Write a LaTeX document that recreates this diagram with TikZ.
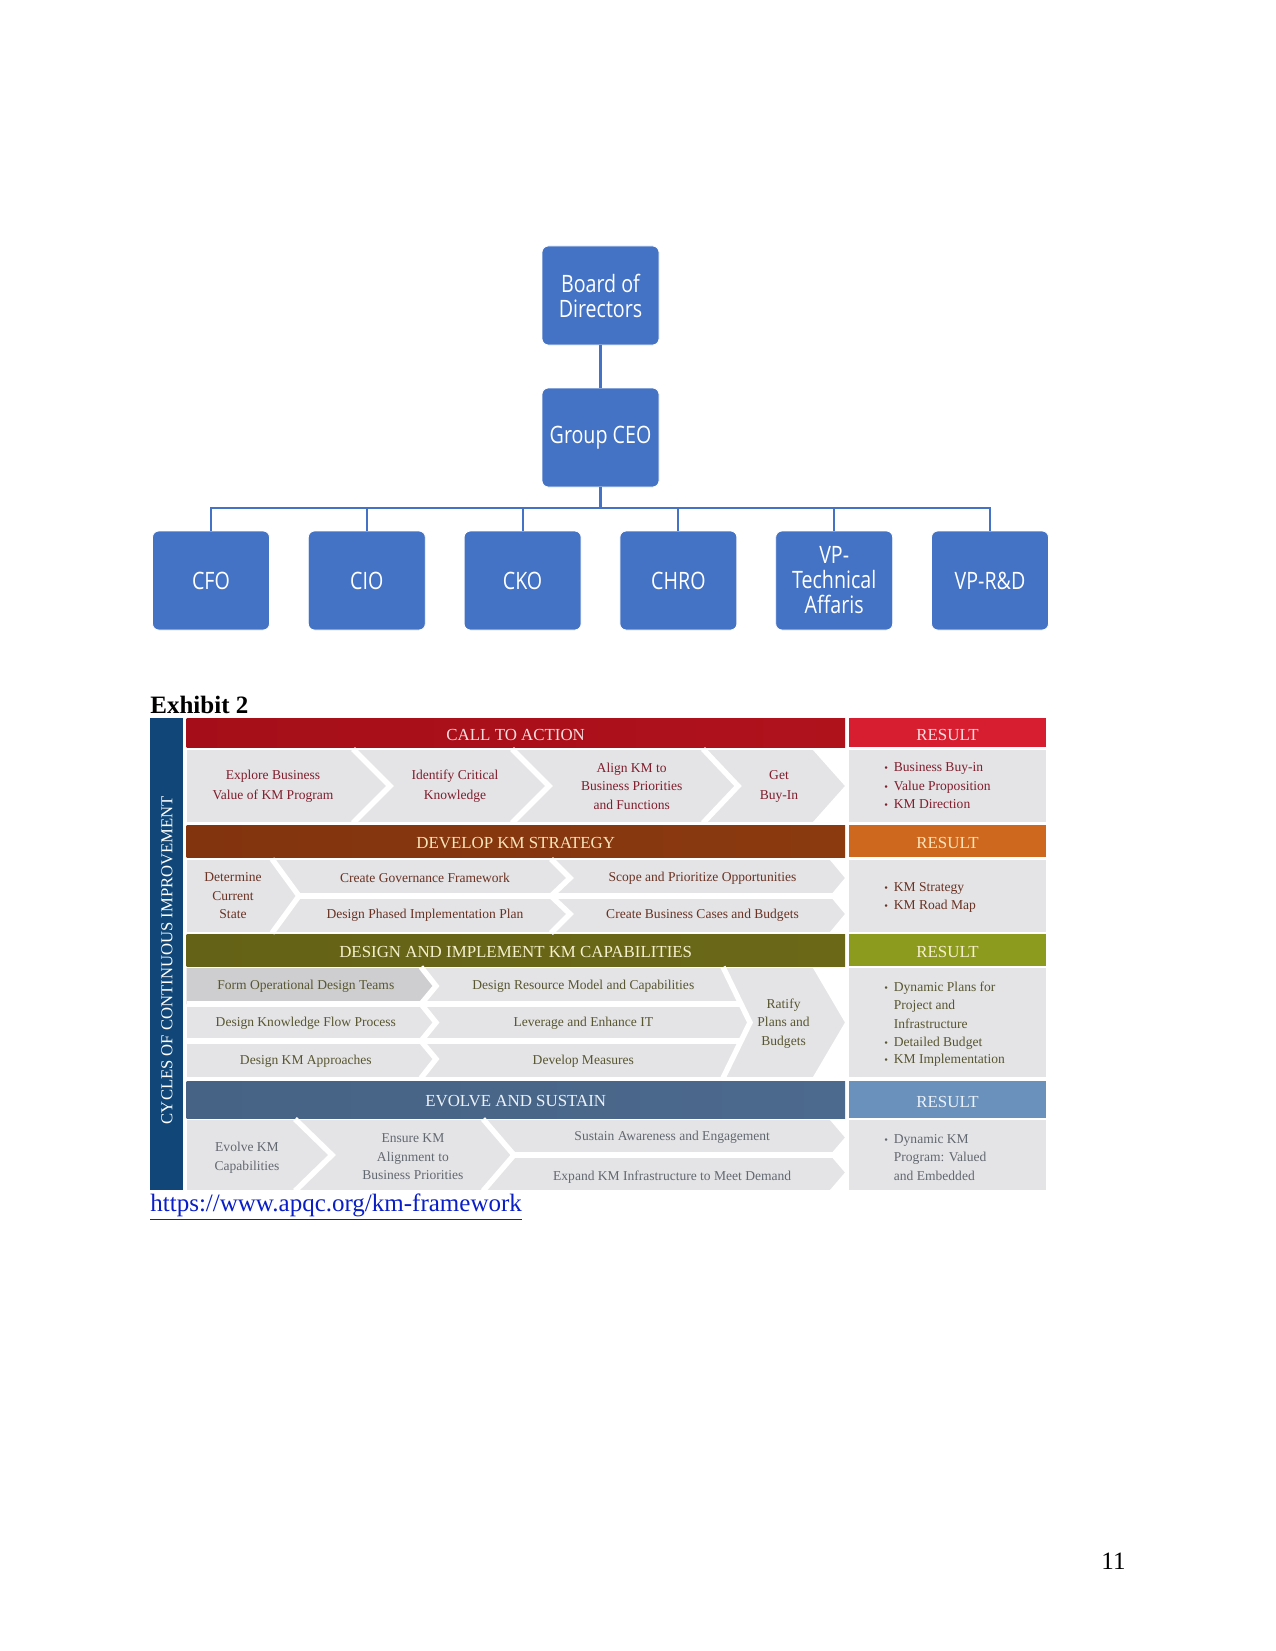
\documentclass[tikz,border=0pt]{standalone}
\usepackage{fontspec}
\setmainfont{Liberation Serif}
\newfontfamily\orgfont[FakeStretch=0.82]{Open Sans}
\definecolor{orgblue}{RGB}{68,114,196}
\definecolor{cyclebar}{RGB}{16,71,120}
\definecolor{hdrA}{RGB}{176,18,28}
\definecolor{hdrAl}{RGB}{165,14,24}
\definecolor{resA}{RGB}{214,30,48}
\definecolor{hdrB}{RGB}{139,58,15}
\definecolor{hdrBl}{RGB}{130,52,14}
\definecolor{resB}{RGB}{206,104,30}
\definecolor{hdrC}{RGB}{107,104,24}
\definecolor{hdrCl}{RGB}{100,98,22}
\definecolor{resC}{RGB}{140,154,30}
\definecolor{hdrD}{RGB}{76,106,142}
\definecolor{hdrDl}{RGB}{70,98,132}
\definecolor{resD}{RGB}{105,145,187}
\definecolor{txtA}{RGB}{248,220,222}
\definecolor{txtB}{RGB}{250,228,185}
\definecolor{txtC}{RGB}{245,240,205}
\definecolor{txtD}{RGB}{235,242,250}
\definecolor{rowA}{RGB}{128,30,45}
\definecolor{rowB}{RGB}{105,50,35}
\definecolor{rowC}{RGB}{88,86,48}
\definecolor{rowD}{RGB}{98,104,112}
\definecolor{rowgray}{RGB}{228,228,230}
\definecolor{darkgray}{RGB}{206,206,208}
\definecolor{urlblue}{RGB}{10,30,200}
\begin{document}
\begin{tikzpicture}[x=0.48pt,y=-0.48pt,
  orgbox/.style={rectangle, rounded corners=3pt, fill=orgblue, draw=white, line width=0.4pt,
    minimum width=56.16pt, minimum height=47.52pt, text=white,
    font=\orgfont\fontsize{11.5}{12}\selectfont, align=center, inner sep=0pt},
  conn/.style={draw=orgblue, line width=1pt},
  hdrtxt/.style={font=\fontsize{8.1}{10}\selectfont, inner sep=0pt},
  body/.style={font=\fontsize{6.5}{9.9}\selectfont, align=center, inner sep=0pt},
  bodyiii/.style={font=\fontsize{6.5}{8.9}\selectfont, align=center, inner sep=0pt},
  res/.style={font=\fontsize{6.5}{8}\selectfont, anchor=base west, inner sep=0pt},
  bul/.style={font=\fontsize{5}{6}\selectfont, anchor=base west, inner sep=0pt},
  sep/.style={draw=white, line width=2.6pt, line join=miter},
  pagetxt/.style={font=\fontsize{12}{14}\selectfont, anchor=base west, inner sep=0pt}
]
\fill[white] (0,0) rectangle (1275,1651);
\useasboundingbox (0,0) rectangle (1275,1651);

% ---------------- org chart ----------------
\node[orgbox] (board) at (600.5,295.5) {Board of\\Directors};
\node[orgbox] (ceo) at (600.5,437.5) {Group CEO};
\node[orgbox] (cfo) at (211,580.5) {CFO};
\node[orgbox] (cio) at (366.8,580.5) {CIO};
\node[orgbox] (cko) at (522.6,580.5) {CKO};
\node[orgbox] (chro) at (678.4,580.5) {CHRO};
\node[orgbox] (vpt) at (834.2,580.5) {VP-\\Technical\\Affaris};
\node[orgbox] (vprd) at (990,580.5) {VP-R\&D};
\draw[conn] (board.south) -- (ceo.north);
\foreach \c in {cfo,cio,cko,chro,vpt,vprd}{
  \draw[conn] (ceo.south) -- ++(0,21) -| (\c.north);
}

% ---------------- page texts ----------------
\node[pagetxt, font=\fontsize{12}{14}\selectfont\bfseries] (exh) at (150,713) {Exhibit 2};
\node[pagetxt, text=urlblue] (url) at (150,1211) {\underline{https://www.apqc.org/km-framework}};
\node[pagetxt] (pnum) at (1101,1569) {11};

% ---------------- framework ----------------
\fill[cyclebar] (150,718) rectangle (183,1190);
\node[rotate=90, text=white, font=\fontsize{8}{9.6}\selectfont, inner sep=0pt] (cyc) at (167,960) {CYCLES OF CONTINUOUS IMPROVEMENT};

% headers
\shade[left color=hdrAl, right color=hdrA] (186.5,718) rectangle (845,747);
\fill[resA] (849,718) rectangle (1046,747);
\shade[left color=hdrBl, right color=hdrB] (186.5,825) rectangle (845,857);
\fill[resB] (849,825) rectangle (1046,857);
\shade[left color=hdrCl, right color=hdrC] (186.5,934) rectangle (845,966);
\fill[resC] (849,934) rectangle (1046,966);
\shade[left color=hdrDl, right color=hdrD] (186.5,1081) rectangle (845,1118);
\fill[resD] (849,1081) rectangle (1046,1118);

\node[hdrtxt, text=txtA] (h1) at (515.7,734.5) {CALL TO ACTION};
\node[hdrtxt, text=txtA] (r1) at (947.5,734.5) {RESULT};
\node[hdrtxt, text=txtB] (h2) at (515.7,843) {DEVELOP KM STRATEGY};
\node[hdrtxt, text=txtB] (r2) at (947.5,843) {RESULT};
\node[hdrtxt, text=txtC] (h3) at (515.7,952) {DESIGN AND IMPLEMENT KM CAPABILITIES};
\node[hdrtxt, text=txtC] (r3) at (947.5,952) {RESULT};
\node[hdrtxt, text=txtD] (h4) at (515.7,1101.5) {EVOLVE AND SUSTAIN};
\node[hdrtxt, text=txtD] (r4) at (947.5,1101.5) {RESULT};

% row backgrounds
\fill[rowgray] (186.5,750) rectangle (845,822);
\fill[rowgray] (849,750) rectangle (1046,822);
\fill[rowgray] (186.5,860) rectangle (845,932);
\fill[rowgray] (849,860) rectangle (1046,932);
\fill[rowgray] (186.5,968) rectangle (845,1077);
\fill[rowgray] (849,968) rectangle (1046,1077);
\fill[rowgray] (186.5,1120) rectangle (845,1190);
\fill[rowgray] (849,1120) rectangle (1046,1190);
\fill[darkgray] (186.5,968) -- (421,968) -- (436,986) -- (421,1004) -- (186.5,1004) -- cycle;

% row 1 separators
\draw[sep] (353,749) -- (390,786) -- (353,823);
\draw[sep] (512,749) -- (549,786) -- (512,823);
\draw[sep] (703,749) -- (738,786) -- (703,823);
\fill[white] (813,750) -- (846,750) -- (846,822) -- (813,822) -- (845,786) -- cycle;

% row 2 separators
\draw[sep] (272,859) -- (299,896) -- (272,933);
\draw[sep] (299,896) -- (846,896);
\draw[sep] (551,859) -- (570,878) -- (551,896) -- (570,914) -- (551,933);
\fill[white] (830,860) -- (846,860) -- (846,932) -- (830,932) -- (845,914) -- (830,896) -- (845,878) -- cycle;

% row 3 separators
\draw[sep] (186.5,1004) -- (741,1004);
\draw[sep] (186.5,1041) -- (741,1041);
\draw[sep] (421,967) -- (436,986) -- (421,1004) -- (436,1022.5) -- (421,1041) -- (436,1059) -- (421,1078);
\draw[sep] (723,967) -- (750,1022.5) -- (723,1078);
\fill[white] (813,968) -- (846,968) -- (846,1077) -- (813,1077) -- (845,1022.5) -- cycle;

% row 4 separators
\draw[sep] (295,1119) -- (332,1155) -- (295,1191);
\draw[sep] (483,1119) -- (514,1155) -- (483,1191);
\draw[sep] (514,1155) -- (846,1155);
\fill[white] (830,1120) -- (846,1120) -- (846,1190) -- (830,1190) -- (845,1172.5) -- (830,1155) -- (845,1137.5) -- cycle;

% row 1 texts
\node[body, text=rowA] (t11) at (273,786.3) {Explore Business\\Value of KM Program};
\node[body, text=rowA] (t12) at (455,786.3) {Identify Critical\\Knowledge};
\node[bodyiii, text=rowA] (t13) at (631.7,786) {Align KM to\\Business Priorities\\and Functions};
\node[body, text=rowA] (t14) at (779,786.3) {Get\\Buy-In};
\node[bul, text=rowA] (b11) at (884,771.5) {\textbullet};
\node[res, text=rowA] (s11) at (893.5,771.5) {Business Buy-in};
\node[bul, text=rowA] (b12) at (884,790) {\textbullet};
\node[res, text=rowA] (s12) at (893.5,790) {Value Proposition};
\node[bul, text=rowA] (b13) at (884,808.5) {\textbullet};
\node[res, text=rowA] (s13) at (893.5,808.5) {KM Direction};

% row 2 texts
\node[bodyiii, text=rowB] (t21) at (233,896) {Determine\\Current\\State};
\node[body, text=rowB] (t22) at (425,878.3) {Create Governance Framework};
\node[body, text=rowB] (t23) at (425,915) {Design Phased Implementation Plan};
\node[body, text=rowB] (t24) at (702.5,878.3) {Scope and Prioritize Opportunities};
\node[body, text=rowB] (t25) at (702.5,915.5) {Create Business Cases and Budgets};
\node[bul, text=rowB] (b21) at (884,891) {\textbullet};
\node[res, text=rowB] (s21) at (893.5,891) {KM Strategy};
\node[bul, text=rowB] (b22) at (884,909.5) {\textbullet};
\node[res, text=rowB] (s22) at (893.5,909.5) {KM Road Map};

% row 3 texts
\node[body, text=rowC] (t31) at (305.8,986) {Form Operational Design Teams};
\node[body, text=rowC] (t32) at (305.8,1023.3) {Design Knowledge Flow Process};
\node[body, text=rowC] (t33) at (305.8,1061.7) {Design KM Approaches};
\node[body, text=rowC] (t34) at (583.3,986) {Design Resource Model and Capabilities};
\node[body, text=rowC] (t35) at (583.3,1023.3) {Leverage and Enhance IT};
\node[body, text=rowC] (t36) at (583.3,1061.7) {Develop Measures};
\node[bodyiii, text=rowC] (t37) at (783.6,1023.5) {Ratify\\Plans and\\Budgets};
\node[bul, text=rowC] (b31) at (884,991) {\textbullet};
\node[res, text=rowC] (s31) at (893.5,991) {Dynamic Plans for};
\node[res, text=rowC] (s32) at (893.5,1009.5) {Project and};
\node[res, text=rowC] (s33) at (893.5,1028) {Infrastructure};
\node[bul, text=rowC] (b34) at (884,1046.5) {\textbullet};
\node[res, text=rowC] (s34) at (893.5,1046.5) {Detailed Budget};
\node[bul, text=rowC] (b35) at (884,1063.5) {\textbullet};
\node[res, text=rowC] (s35) at (893.5,1063.5) {KM Implementation};

% row 4 texts
\node[bodyiii, text=rowD] (t41) at (247,1157.5) {Evolve KM\\Capabilities};
\node[bodyiii, text=rowD] (t42) at (412.9,1157) {Ensure KM\\Alignment to\\Business Priorities};
\node[body, text=rowD] (t43) at (672.2,1137.7) {Sustain Awareness and Engagement};
\node[body, text=rowD] (t44) at (672.2,1176.7) {Expand KM Infrastructure to Meet Demand};
\node[bul, text=rowD] (b41) at (884,1143.3) {\textbullet};
\node[res, text=rowD] (s41) at (893.5,1143.3) {Dynamic KM};
\node[res, text=rowD] (s42) at (893.5,1161.7) {Program: Valued};
\node[res, text=rowD] (s43) at (893.5,1180) {and Embedded};
\end{tikzpicture}
\end{document}
